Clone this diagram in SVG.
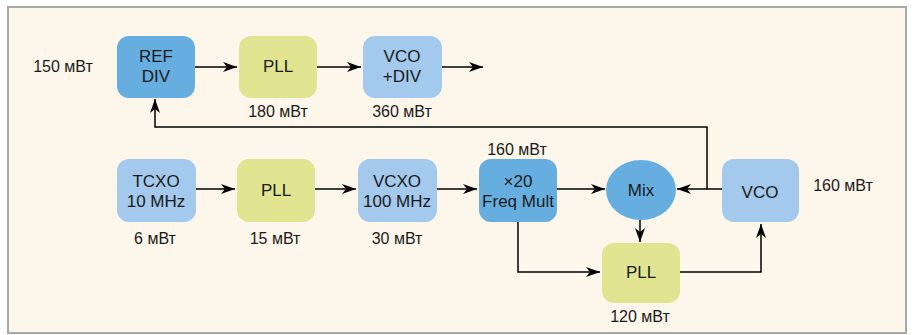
<svg xmlns="http://www.w3.org/2000/svg" width="913" height="335" viewBox="0 0 913 335">
<defs>
<style>
text{font-family:"Liberation Sans Narrow","Liberation Sans",Arial,sans-serif;fill:#1a1a1a;text-anchor:middle;font-size:17px}
.lbl{font-size:16px}
.c{fill:none;stroke:#000;stroke-width:1.5}
.dark{fill:#66aee0}
.light{fill:#a3c9ec}
.pll{fill:#e1e592}
</style>
<marker id="ah" viewBox="0 0 14 10" refX="14" refY="5" markerWidth="14" markerHeight="10" markerUnits="userSpaceOnUse" orient="auto">
<path d="M0,0 L14,5 L0,10 L4,5 Z" fill="#000"/>
</marker>
</defs>
<rect x="0" y="0" width="913" height="335" fill="#fff"/>
<rect x="8" y="7" width="898" height="326" fill="#fdf6ea" stroke="#a8a8a8" stroke-width="2"/>

<g id="connectors">
<path class="c" d="M195,67 H237" marker-end="url(#ah)"/>
<path class="c" d="M317,67 H361" marker-end="url(#ah)"/>
<path class="c" d="M442,67 H483" marker-end="url(#ah)"/>
<path class="c" d="M722,189 H707 V127 H155 V99" marker-end="url(#ah)"/>
<path class="c" d="M707,189 H677" marker-end="url(#ah)"/>
<path class="c" d="M196,189 H235" marker-end="url(#ah)"/>
<path class="c" d="M315,189 H356" marker-end="url(#ah)"/>
<path class="c" d="M437,189 H477" marker-end="url(#ah)"/>
<path class="c" d="M557,189 H605" marker-end="url(#ah)"/>
<path class="c" d="M640,220 V242" marker-end="url(#ah)"/>
<path class="c" d="M518,222 V272 H600" marker-end="url(#ah)"/>
<path class="c" d="M680,272 H761 V224" marker-end="url(#ah)"/>
</g>

<text class="lbl" x="63" y="72">150 мВт</text>

<g id="refdiv">
<rect class="dark" x="117" y="36" width="78" height="62" rx="12"/>
<text x="156" y="62">REF</text>
<text x="156" y="82">DIV</text>
</g>
<g id="pll1">
<rect class="pll" x="239" y="36" width="78" height="62" rx="12"/>
<text x="278" y="72">PLL</text>
<text class="lbl" x="278" y="117">180 мВт</text>
</g>
<g id="vcodiv">
<rect class="light" x="363" y="36" width="79" height="62" rx="12"/>
<text x="402" y="62">VCO</text>
<text x="402" y="82">+DIV</text>
<text class="lbl" x="402" y="117">360 мВт</text>
</g>

<g id="tcxo">
<rect class="light" x="117" y="159" width="79" height="63" rx="12"/>
<text x="156" y="187">TCXO</text>
<text x="156" y="207">10 MHz</text>
<text class="lbl" x="155" y="244">6 мВт</text>
</g>
<g id="pll2">
<rect class="pll" x="237" y="159" width="78" height="63" rx="12"/>
<text x="276" y="196">PLL</text>
<text class="lbl" x="275" y="244">15 мВт</text>
</g>
<g id="vcxo">
<rect class="light" x="358" y="159" width="79" height="63" rx="12"/>
<text x="397" y="187">VCXO</text>
<text x="397" y="207">100 MHz</text>
<text class="lbl" x="397" y="244">30 мВт</text>
</g>
<g id="freqmult">
<rect class="dark" x="479" y="159" width="78" height="63" rx="12"/>
<text x="518" y="187">×20</text>
<text x="518" y="207">Freq Mult</text>
<text class="lbl" x="517" y="155">160 мВт</text>
</g>
<g id="mix">
<ellipse class="dark" cx="641" cy="190" rx="35" ry="30"/>
<text x="641" y="196">Mix</text>
</g>
<g id="vco">
<rect class="light" x="722" y="159" width="77" height="63" rx="12"/>
<text x="760" y="198">VCO</text>
<text class="lbl" x="843" y="191">160 мВт</text>
</g>
<g id="pll3">
<rect class="pll" x="602" y="243" width="78" height="60" rx="12"/>
<text x="641" y="278">PLL</text>
<text class="lbl" x="640" y="322">120 мВт</text>
</g>
</svg>
